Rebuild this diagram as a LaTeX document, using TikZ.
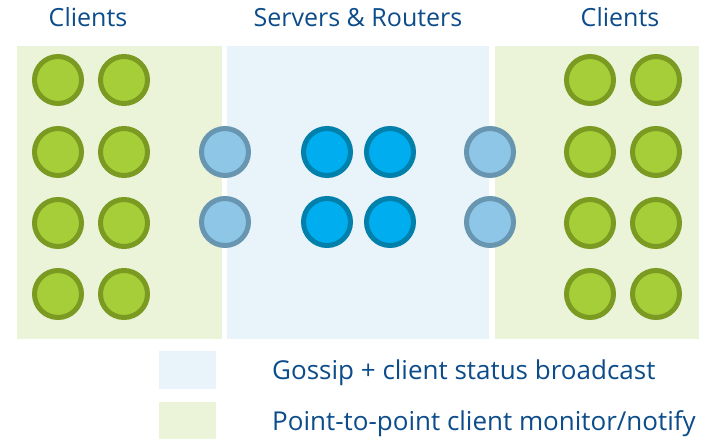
\documentclass[tikz,border=0pt]{standalone}
\usepackage{fontspec}
\setmainfont{Open Sans}
\definecolor{bggreen}{HTML}{EBF4D9}
\definecolor{bgblue}{HTML}{E8F3FA}
\definecolor{cgreenfill}{HTML}{A6CE39}
\definecolor{cgreenline}{HTML}{7A9A22}
\definecolor{lbfill}{HTML}{8EC6E8}
\definecolor{lbline}{HTML}{6896B0}
\definecolor{dbfill}{HTML}{00AEEF}
\definecolor{dbline}{HTML}{0080AA}
\definecolor{txtblue}{HTML}{0C4C8A}
\begin{document}
\begin{tikzpicture}[x=1pt,y=-1pt,
  dot/.style={circle,inner sep=0pt,minimum size=47pt,line width=5pt},
  client/.style={dot,fill=cgreenfill,draw=cgreenline},
  edge/.style={dot,fill=lbfill,draw=lbline},
  core/.style={dot,fill=dbfill,draw=dbline},
  title/.style={text=txtblue,font=\fontsize{25}{30}\selectfont,anchor=base},
  legtext/.style={text=txtblue,font=\fontsize{26}{31}\selectfont,anchor=base west,inner sep=0pt}]
\useasboundingbox (0,0) rectangle (715,439);
% background panels
\fill[bggreen] (17,46) rectangle (222,339);
\fill[bgblue] (227,46) rectangle (489,339);
\fill[bggreen] (495,46) rectangle (699,339);
% titles
\node[title] (t1) at (88,27) {Clients};
\node[title] (t2) at (358,27) {Servers \& Routers};
\node[title] (t3) at (620,27) {Clients};
% left clients
\foreach \r/\y in {1/80,2/152,3/223,4/294}{
  \node[client] (l1\r) at (58,\y) {};
  \node[client] (l2\r) at (124,\y) {};
  \node[client] (r1\r) at (590,\y) {};
  \node[client] (r2\r) at (656,\y) {};
}
% servers & routers
\node[edge] (el1) at (225,152) {};
\node[edge] (el2) at (225,222) {};
\node[edge] (er1) at (490,152) {};
\node[edge] (er2) at (490,222) {};
\node[core] (c11) at (327,152) {};
\node[core] (c12) at (390,152) {};
\node[core] (c21) at (327,222) {};
\node[core] (c22) at (390,222) {};
% legend
\fill[bgblue] (159,351) rectangle (216,389);
\fill[bggreen] (159,402) rectangle (216,439);
\node[legtext] (lg1) at (272,379) {Gossip + client status broadcast};
\node[legtext] (lg2) at (272,430) {Point-to-point client monitor/notify};
\end{tikzpicture}
\end{document}
